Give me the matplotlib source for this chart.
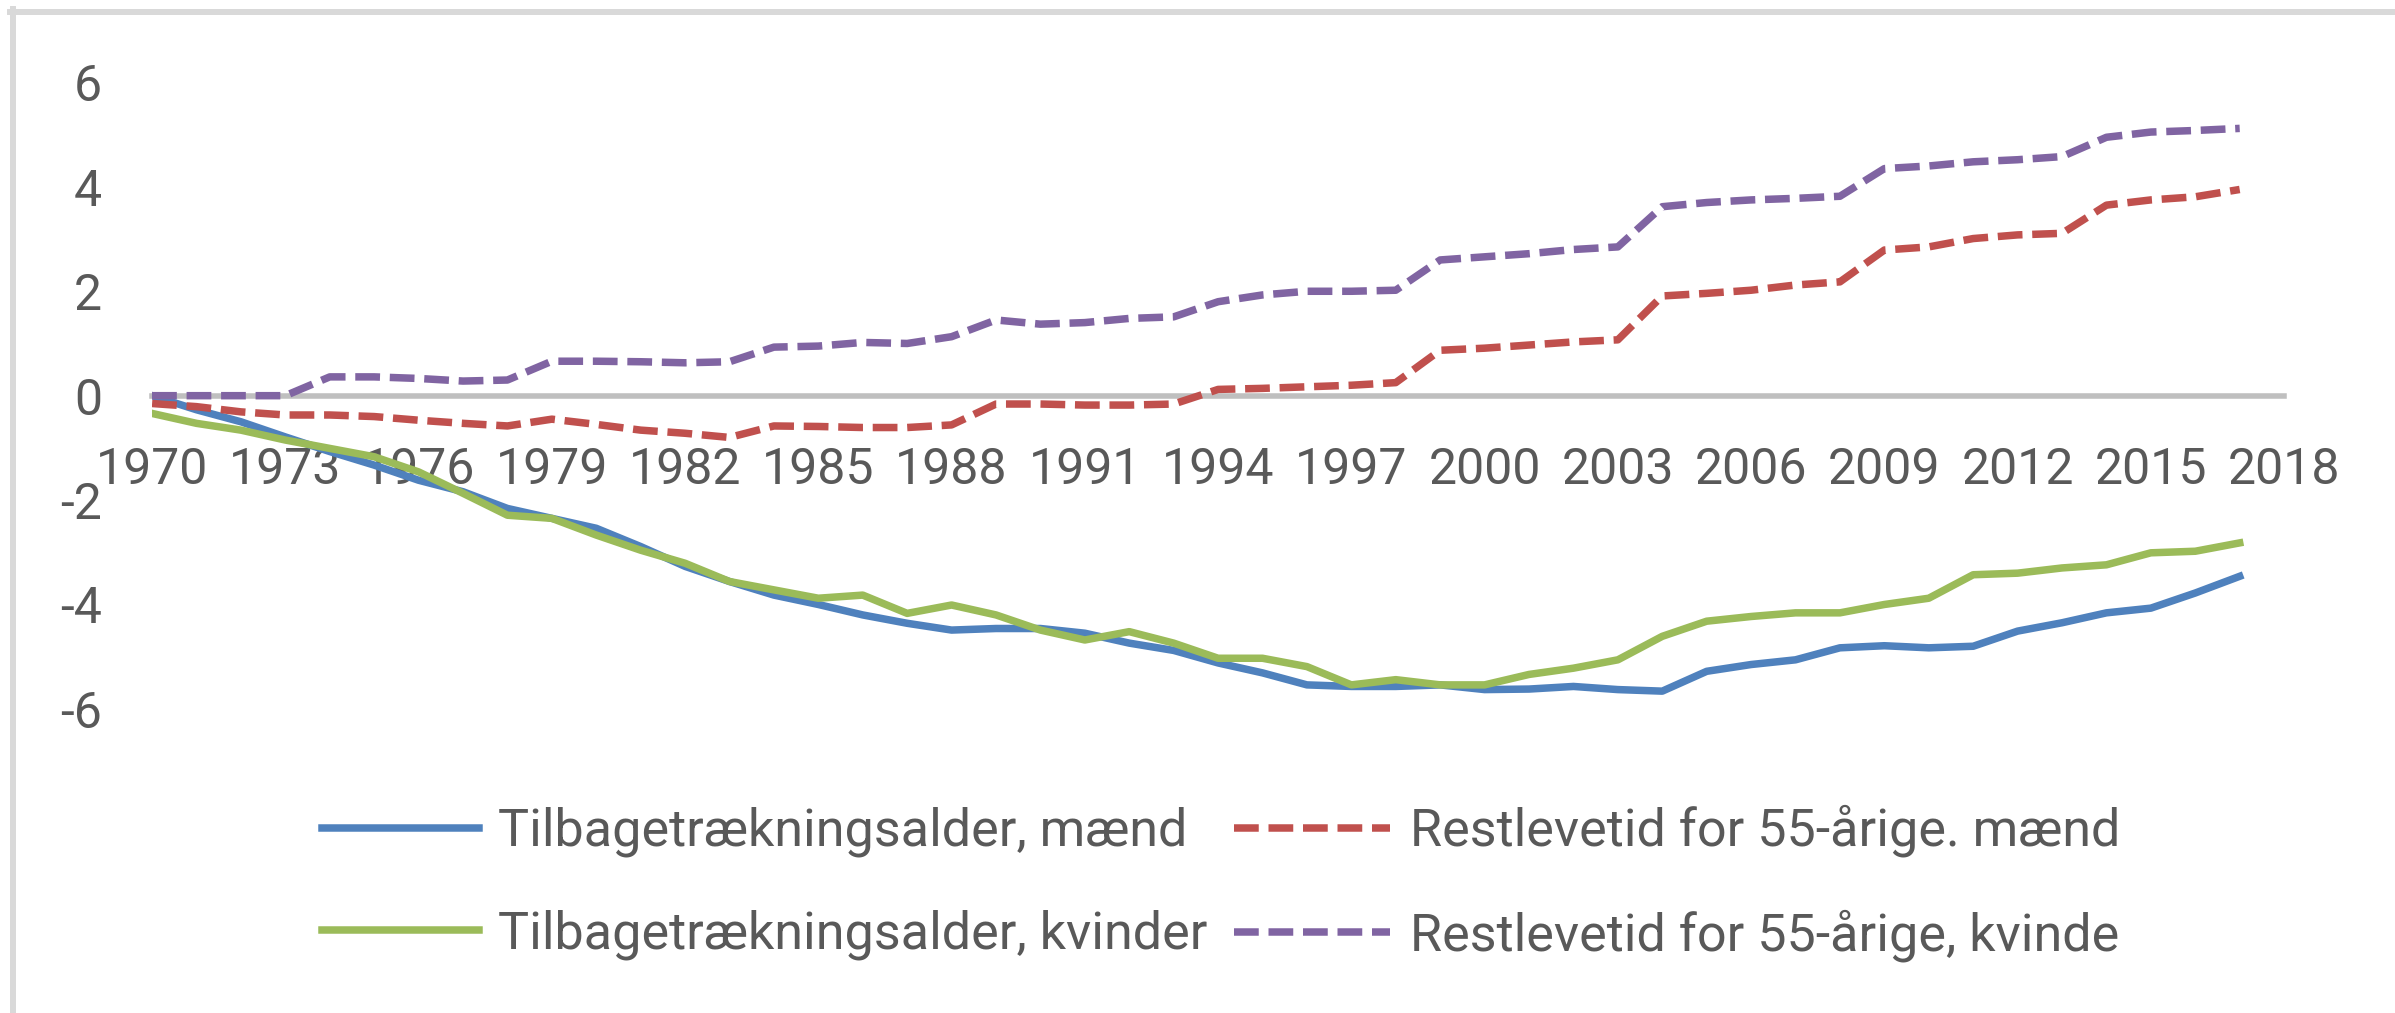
import matplotlib
matplotlib.use('Agg')
import matplotlib.pyplot as plt
from matplotlib.lines import Line2D

years = list(range(1970, 2018))

tilbage_maend = [0.0, -0.27, -0.50, -0.79, -1.07, -1.33, -1.62, -1.84, -2.16, -2.35,
                 -2.54, -2.89, -3.27, -3.56, -3.82, -4.00, -4.20, -4.36, -4.49, -4.46,
                 -4.46, -4.55, -4.74, -4.88, -5.12, -5.31, -5.54, -5.57, -5.57, -5.54,
                 -5.63, -5.62, -5.57, -5.63, -5.66, -5.28, -5.15, -5.06, -4.83, -4.79,
                 -4.83, -4.80, -4.51, -4.35, -4.16, -4.07, -3.78, -3.46]

tilbage_kvinder = [-0.34, -0.53, -0.66, -0.85, -1.01, -1.17, -1.46, -1.87, -2.29, -2.35,
                   -2.67, -2.96, -3.21, -3.56, -3.72, -3.88, -3.82, -4.17, -4.01, -4.20,
                   -4.49, -4.68, -4.52, -4.74, -5.03, -5.03, -5.19, -5.54, -5.44, -5.54,
                   -5.54, -5.34, -5.22, -5.06, -4.61, -4.32, -4.23, -4.16, -4.16, -4.00,
                   -3.88, -3.43, -3.40, -3.30, -3.24, -3.01, -2.98, -2.82]

rest_maend = [-0.15, -0.21, -0.31, -0.37, -0.37, -0.40, -0.47, -0.53, -0.58, -0.45,
              -0.55, -0.66, -0.72, -0.80, -0.58, -0.59, -0.61, -0.61, -0.56, -0.16,
              -0.16, -0.18, -0.18, -0.16, 0.12, 0.14, 0.17, 0.20, 0.25, 0.87,
              0.91, 0.97, 1.03, 1.07, 1.91, 1.96, 2.02, 2.12, 2.18, 2.79,
              2.85, 3.01, 3.08, 3.11, 3.65, 3.75, 3.81, 3.95]

rest_kvinde = [0.0, 0.0, 0.0, 0.0, 0.36, 0.36, 0.33, 0.28, 0.30, 0.66,
               0.66, 0.65, 0.63, 0.65, 0.93, 0.95, 1.02, 1.00, 1.13, 1.45,
               1.37, 1.40, 1.48, 1.51, 1.80, 1.93, 2.00, 2.00, 2.02, 2.60,
               2.66, 2.72, 2.80, 2.85, 3.62, 3.70, 3.75, 3.78, 3.82, 4.35,
               4.40, 4.48, 4.52, 4.58, 4.95, 5.05, 5.08, 5.12]

labels = ['Tilbagetrækningsalder, mænd', 'Tilbagetrækningsalder, kvinder',
          'Restlevetid for 55-årige. mænd', 'Restlevetid for 55-årige, kvinde']
x_ticks = list(range(1970, 2019, 3))
y_ticks = [-6, -4, -2, 0, 2, 4, 6]

TEXT = '#595959'


def plot_chart():
    plt.rcParams['font.family'] = ['Roboto', 'DejaVu Sans']
    plt.rcParams['axes.unicode_minus'] = False

    fig = plt.figure(figsize=(23.95, 10.13), dpi=100)
    ax = fig.add_axes([0.0635, 0.3002, 0.8902, 0.6184])

    lw = 5.4
    l1, = ax.plot(years, tilbage_maend, color='#4f81bd', lw=lw, solid_joinstyle='round')
    l2, = ax.plot(years, tilbage_kvinder, color='#9bbb59', lw=lw, solid_joinstyle='round')
    l3, = ax.plot(years, rest_maend, color='#c0504d', lw=lw, dashes=(3.3, 1.3))
    l4, = ax.plot(years, rest_kvinde, color='#8064a2', lw=lw, dashes=(3.3, 1.3))

    ax.set_xlim(1970, 2018)
    ax.set_ylim(-6, 6)
    ax.set_xticks(x_ticks)
    ax.set_yticks(y_ticks)

    for s in ['top', 'right', 'left']:
        ax.spines[s].set_visible(False)
    ax.spines['bottom'].set_position(('data', 0))
    ax.spines['bottom'].set_color('#bfbfbf')
    ax.spines['bottom'].set_linewidth(4)
    ax.spines['bottom'].set_zorder(0)

    ax.tick_params(axis='x', length=0, pad=36, labelsize=36, labelcolor=TEXT)
    ax.tick_params(axis='y', length=0, pad=36, labelsize=36, labelcolor=TEXT)

    fig.legend([l1, l2, l3, l4], labels, loc='center', bbox_to_anchor=(0.51, 0.128),
               ncol=2, frameon=False, fontsize=37.5, labelcolor=TEXT,
               handlelength=3.0, handletextpad=0.38, columnspacing=0.5, labelspacing=1.0)

    # chart area border (only top and left edges are visible in the crop)
    fig.add_artist(Line2D([10 / 2395, 1], [1 - 12 / 1013, 1 - 12 / 1013],
                          color='#d9d9d9', lw=4.3, transform=fig.transFigure))
    fig.add_artist(Line2D([13 / 2395, 13 / 2395], [0, 1 - 9 / 1013],
                          color='#d9d9d9', lw=4.3, transform=fig.transFigure))

    fig.savefig('out.png', dpi=100)


def main():
    plot_chart()


if __name__ == '__main__':
    main()
